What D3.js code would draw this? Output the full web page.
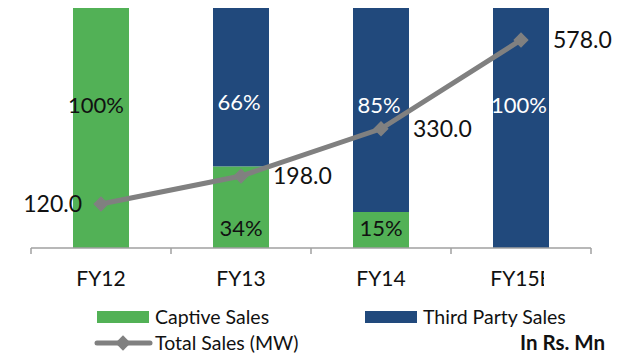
<!DOCTYPE html>
<html>
<head>
<meta charset="utf-8">
<script src="https://cdn.jsdelivr.net/npm/d3@7"></script>
<style>
  body { margin: 0; background: #fff; }
  text { font-family: Lato, "Open Sans", sans-serif; }
</style>
</head>
<body>
<script>
// chart data
let years = ["FY12", "FY13", "FY14", "FY15E"];
let captive = [100, 34, 15, 0];
let thirdParty = [0, 66, 85, 100];
let totalSales = [120.0, 198.0, 330.0, 578.0];
let captiveLabels = ["100%", "34%", "15%", ""];
let thirdLabels = ["", "66%", "85%", "100%"];

let width = 623, height = 354;
let svg = d3.select("body").append("svg")
    .attr("width", width)
    .attr("height", height);

let x = d3.scaleBand()
    .domain(years)
    .range([31, 591])
    .paddingInner(0.6)
    .paddingOuter(0.3);

let y = d3.scaleLinear().domain([0, 100]).range([248, 8]);
let y2 = d3.scaleLinear().domain([0, 670]).range([247, 7]);

let green = "#52b156", blue = "#21497c", grey = "#808080";

// bars
let g = svg.append("g");
g.selectAll(".cap")
    .data(years)
    .enter().append("rect")
    .attr("x", d => x(d))
    .attr("width", x.bandwidth())
    .attr("y", (d, i) => y(captive[i]))
    .attr("height", (d, i) => y(0) - y(captive[i]))
    .attr("fill", green);
g.selectAll(".tp")
    .data(years)
    .enter().append("rect")
    .attr("x", d => x(d))
    .attr("width", x.bandwidth())
    .attr("y", (d, i) => y(captive[i] + thirdParty[i]))
    .attr("height", (d, i) => y(captive[i]) - y(captive[i] + thirdParty[i]))
    .attr("fill", blue);

// axis
let axisG = svg.append("g");
axisG.append("line")
    .attr("x1", 31).attr("x2", 591)
    .attr("y1", 248).attr("y2", 248)
    .attr("stroke", "#a0a0a0").attr("stroke-width", 1.5);
let step = x.step();
axisG.selectAll(".tick")
    .data(d3.range(years.length + 1))
    .enter().append("line")
    .attr("x1", i => 31 + i * step).attr("x2", i => 31 + i * step)
    .attr("y1", 248).attr("y2", 254)
    .attr("stroke", "#a0a0a0").attr("stroke-width", 1.5);
// last label is cut off in the original
svg.append("clipPath").attr("id", "lblclip")
    .append("rect").attr("x", 0).attr("y", 0).attr("width", 544).attr("height", height);
axisG.selectAll(".lbl")
    .data(years)
    .enter().append("text")
    .attr("x", d => x(d) + x.bandwidth() / 2)
    .attr("y", 286)
    .attr("text-anchor", "middle")
    .attr("font-size", 21)
    .attr("fill", "#111")
    .attr("clip-path", "url(#lblclip)")
    .text(d => d);

// segment labels
g.selectAll(".capLbl")
    .data(years)
    .enter().append("text")
    .attr("x", (d, i) => x(d) + x.bandwidth() / 2 - (captive[i] === 100 ? 5 : 0))
    .attr("y", (d, i) => captive[i] === 100 ? 113 : 236)
    .attr("text-anchor", "middle")
    .attr("font-size", 22)
    .attr("fill", "#111")
    .text((d, i) => captiveLabels[i]);
g.selectAll(".tpLbl")
    .data(years)
    .enter().append("text")
    .attr("x", d => x(d) + x.bandwidth() / 2 - 2)
    .attr("y", (d, i) => i === 1 ? 110 : 113)
    .attr("text-anchor", "middle")
    .attr("font-size", 22)
    .attr("fill", "#fff")
    .text((d, i) => thirdLabels[i]);

// total sales line
let cx = (d, i) => x(years[i]) + x.bandwidth() / 2;
let line = d3.line()
    .x((d, i) => cx(d, i))
    .y(d => y2(d));
svg.append("path")
    .datum(totalSales)
    .attr("d", line)
    .attr("fill", "none")
    .attr("stroke", grey)
    .attr("stroke-width", 5);
let diamond = d3.symbol().type(d3.symbolDiamond2).size(150);
svg.selectAll(".mk")
    .data(totalSales)
    .enter().append("path")
    .attr("d", diamond)
    .attr("transform", (d, i) => "translate(" + cx(d, i) + "," + y2(d) + ")")
    .attr("fill", grey);
svg.selectAll(".tot")
    .data(totalSales)
    .enter().append("text")
    .attr("x", (d, i) => i === 0 ? cx(d, i) - 19 : cx(d, i) + 32)
    .attr("y", d => y2(d) + 8)
    .attr("text-anchor", (d, i) => i === 0 ? "end" : "start")
    .attr("font-size", 23)
    .attr("fill", "#111")
    .text(d => d.toFixed(1));

// legend
let leg = svg.append("g").attr("font-size", 19.5).attr("fill", "#111");
leg.append("rect").attr("x", 97).attr("y", 311).attr("width", 52).attr("height", 12).attr("fill", green);
leg.append("text").attr("x", 155).attr("y", 324).text("Captive Sales");
leg.append("rect").attr("x", 365).attr("y", 311).attr("width", 52).attr("height", 12).attr("fill", blue);
leg.append("text").attr("x", 423).attr("y", 324).text("Third Party Sales");
leg.append("line").attr("x1", 97).attr("x2", 150).attr("y1", 343).attr("y2", 343)
    .attr("stroke", grey).attr("stroke-width", 5).attr("stroke-linecap", "round");
leg.append("path").attr("d", diamond).attr("transform", "translate(123,343)").attr("fill", grey);
leg.append("text").attr("x", 155).attr("y", 350).text("Total Sales (MW)");

svg.append("text")
    .attr("x", 520).attr("y", 350)
    .attr("font-size", 20.5)
    .attr("font-weight", "bold")
    .attr("fill", "#111")
    .text("In Rs. Mn");
</script>
</body>
</html>
